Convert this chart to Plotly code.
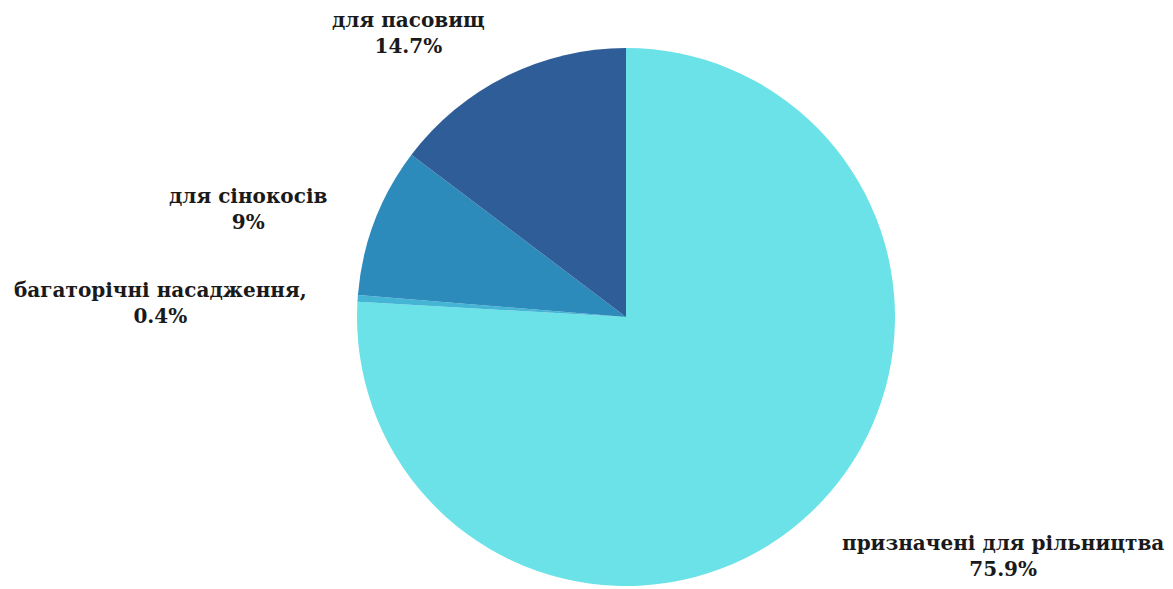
import plotly.graph_objects as go

labels = ["призначені для рільництва", "багаторічні насадження,", "для сінокосів", "для пасовищ"]
values = [75.9, 0.4, 9.0, 14.7]
value_text = ["75.9%", "0.4%", "9%", "14.7%"]
colors = ["#6AE2E8", "#45B5D6", "#2C8BBB", "#2F5D97"]

W, H = 1173, 589
OFF = 8  # page body margin offset in the screenshot

fig = go.Figure(go.Pie(
    labels=labels,
    values=values,
    sort=False,
    direction="clockwise",
    rotation=0,
    marker=dict(colors=colors, line=dict(width=0)),
    textinfo="none",
    hoverinfo="label+percent",
    domain=dict(x=[63 / W, 1.0], y=[(H - 578) / H, (H - 40) / H]),
    showlegend=False,
))

# label anchor positions (screenshot pixel centres), one per slice
label_pos = [(1003, 556), (160, 303), (248, 209), (408, 33)]

for lab, vt, (px, py) in zip(labels, value_text, label_pos):
    fig.add_annotation(
        x=(px - OFF) / W, y=1 - (py - OFF) / H, xref="paper", yref="paper",
        text=f"<b>{lab}<br>{vt}</b>",
        showarrow=False, align="center",
        xanchor="center", yanchor="middle",
        font=dict(family="DejaVu Serif", size=20, color="#1A1A1A"),
    )

fig.update_layout(
    width=W, height=H,
    margin=dict(l=0, r=0, t=0, b=0),
    paper_bgcolor="white",
    plot_bgcolor="white",
)

fig.write_html("out.html")
